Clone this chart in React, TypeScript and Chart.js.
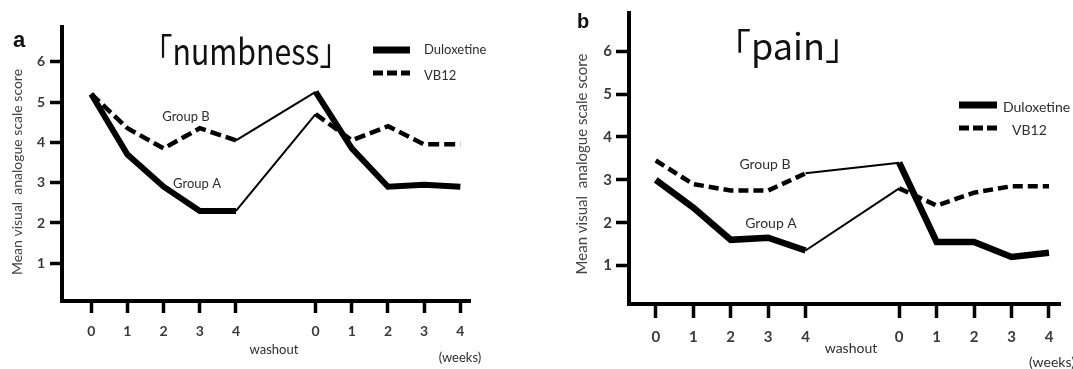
import React, { useEffect, useRef } from 'react';
import { Chart, registerables } from 'chart.js';

Chart.register(...registerables);

// ---------- data ----------
const weekLabels = ['0', '1', '2', '3', '4'];
const yTickValues = [1, 2, 3, 4, 5, 6];
// 10 timepoints: period 1 weeks 0-4, then (after washout) period 2 weeks 0-4
const numbnessGroupA = [5.2, 3.7, 2.9, 2.3, 2.3, 4.7, 4.05, 4.4, 3.95, 3.95];
const numbnessGroupB = [5.2, 4.35, 3.85, 4.35, 4.05, 5.25, 3.85, 2.9, 2.95, 2.9];
const painGroupA = [3.0, 2.35, 1.6, 1.65, 1.35, 2.8, 2.4, 2.7, 2.85, 2.85];
const painGroupB = [3.45, 2.9, 2.75, 2.75, 3.15, 3.4, 1.55, 1.55, 1.2, 1.3];
const groupASequence = ['Duloxetine', 'VB12'];
const groupBSequence = ['VB12', 'Duloxetine'];
const legendItems = ['Duloxetine', 'VB12'];
const yAxisTitle = 'Mean visual  analogue scale score';

const TEXT = '#2e2e2e';
const FONT = 'Lato, "Open Sans", sans-serif';

type Panel = {
  letter: string;
  title: string;
  groupA: number[];
  groupB: number[];
  w: number;
  h: number;
  area: { left: number; top: number; right: number; bottom: number };
  xMin: number;
  xMax: number;
  yMin: number;
  yMax: number;
  gap: number;
  yTickLen: number;
  xTickLen: number;
  yPad: number;
  xPad: number;
  tickSize: number;
  thick: number;
  dashW: number;
  dash: number[];
  thin: number;
  layout: any;
};

const panelA: Panel = {
  letter: 'a',
  title: '「numbness」',
  groupA: numbnessGroupA,
  groupB: numbnessGroupB,
  w: 536,
  h: 369,
  area: { left: 62, top: 27, right: 470, bottom: 301 },
  xMin: -0.808,
  xMax: 10.466,
  yMin: 0.065,
  yMax: 6.861,
  gap: 6.2,
  yTickLen: 12,
  xTickLen: 12,
  yPad: 5,
  xPad: 10,
  tickSize: 14,
  thick: 6,
  dashW: 4.5,
  dash: [11, 5],
  thin: 2,
  layout: {
    letter: { x: 19, y: 47, size: 22 },
    title: { x: 246, y: 65, size: 36, sx: 0.84 },
    groupB: { x: 186, y: 117, size: 13 },
    groupA: { x: 197, y: 184, size: 13 },
    washout: { x: 274, y: 350, size: 13 },
    weeks: { x: 460, y: 358, size: 13 },
    yTitle: { x: 17, y: 172, size: 14 },
    legend: { x1: 373, x2: 410, y1: 50, y2: 73, tx1: 424, tx2: 424, ty1: 50, ty2: 76, size: 13, thick: 7, dashW: 5, dash: [10, 4] },
  },
};

const panelB: Panel = {
  letter: 'b',
  title: '「pain」',
  groupA: painGroupA,
  groupB: painGroupB,
  w: 537,
  h: 369,
  area: { left: 93, top: 9, right: 524, bottom: 304 },
  xMin: -0.715,
  xMax: 10.794,
  yMin: 0.103,
  yMax: 6.89,
  gap: 6.5,
  yTickLen: 13,
  xTickLen: 14,
  yPad: 4,
  xPad: 10,
  tickSize: 15,
  thick: 6.5,
  dashW: 4.5,
  dash: [10, 5],
  thin: 2,
  layout: {
    letter: { x: 47, y: 28, size: 20 },
    title: { x: 252, y: 60, size: 36, sx: 1 },
    groupB: { x: 229, y: 164, size: 14 },
    groupA: { x: 235, y: 223, size: 14 },
    washout: { x: 315, y: 348, size: 14 },
    weeks: { x: 516, y: 362, size: 14 },
    yTitle: { x: 46, y: 164, size: 15 },
    legend: { x1: 423, x2: 461, y1: 105, y2: 128, tx1: 467, tx2: 476, ty1: 107, ty2: 130, size: 14, thick: 7, dashW: 5, dash: [10, 4] },
  },
};

function xPositions(gap: number): number[] {
  const w = weekLabels.map(Number);
  return [...w, ...w.map((v) => v + gap)];
}

function segmentStyle(seq: string[], p0: number, p: Panel) {
  if (p0 === weekLabels.length - 1) return { width: p.thin, dash: [] as number[] };
  const drug = p0 < weekLabels.length - 1 ? seq[0] : seq[1];
  return drug === 'Duloxetine' ? { width: p.thick, dash: [] as number[] } : { width: p.dashW, dash: p.dash };
}

function makeDataset(label: string, values: number[], seq: string[], p: Panel) {
  const xs = xPositions(p.gap);
  return {
    label,
    data: values.map((v, i) => ({ x: xs[i], y: v })),
    borderColor: '#000',
    borderWidth: p.thin,
    pointRadius: 0,
    fill: false,
    tension: 0,
    borderJoinStyle: 'miter' as const,
    segment: {
      borderWidth: (ctx: any) => segmentStyle(seq, ctx.p0DataIndex, p).width,
      borderDash: (ctx: any) => segmentStyle(seq, ctx.p0DataIndex, p).dash,
    },
  };
}

function annotationPlugin(p: Panel) {
  return {
    id: 'annotations' + p.letter,
    afterDraw(chart: any) {
      const ctx = chart.ctx as CanvasRenderingContext2D;
      const L = p.layout;
      ctx.save();
      // panel letter
      ctx.fillStyle = '#111';
      ctx.font = `bold ${L.letter.size}px "Liberation Sans", Arial, sans-serif`;
      ctx.textAlign = 'center';
      ctx.textBaseline = 'alphabetic';
      ctx.fillText(p.letter, L.letter.x, L.letter.y);
      // title
      ctx.save();
      ctx.fillStyle = '#111';
      ctx.translate(L.title.x, L.title.y);
      ctx.scale(L.title.sx, 1);
      ctx.font = `${L.title.size}px "Noto Sans CJK JP", "Noto Sans", sans-serif`;
      ctx.textAlign = 'center';
      ctx.fillText(p.title, 0, 0);
      ctx.restore();
      // group labels etc.
      ctx.fillStyle = TEXT;
      ctx.textBaseline = 'middle';
      const put = (t: string, o: any) => {
        ctx.font = `${o.size}px ${FONT}`;
        ctx.fillText(t, o.x, o.y);
      };
      ctx.textAlign = 'center';
      put('Group B', L.groupB);
      put('Group A', L.groupA);
      put('washout', L.washout);
      put('(weeks)', L.weeks);
      // y axis title
      ctx.save();
      ctx.translate(L.yTitle.x, L.yTitle.y);
      ctx.rotate(-Math.PI / 2);
      ctx.font = `${L.yTitle.size}px ${FONT}`;
      ctx.fillStyle = '#444';
      ctx.fillText(yAxisTitle, 0, 0);
      ctx.restore();
      // legend
      const lg = L.legend;
      ctx.strokeStyle = '#000';
      ctx.lineCap = 'butt';
      ctx.lineWidth = lg.thick;
      ctx.setLineDash([]);
      ctx.beginPath();
      ctx.moveTo(lg.x1, lg.y1);
      ctx.lineTo(lg.x2, lg.y1);
      ctx.stroke();
      ctx.lineWidth = lg.dashW;
      ctx.setLineDash(lg.dash);
      ctx.beginPath();
      ctx.moveTo(lg.x1, lg.y2);
      ctx.lineTo(lg.x2, lg.y2);
      ctx.stroke();
      ctx.setLineDash([]);
      ctx.textAlign = 'left';
      ctx.font = `${lg.size}px ${FONT}`;
      ctx.fillText(legendItems[0], lg.tx1, lg.ty1);
      ctx.fillText(legendItems[1], lg.tx2, lg.ty2);
      ctx.restore();
    },
  };
}

function buildChart(canvas: HTMLCanvasElement, p: Panel) {
  const xs = xPositions(p.gap);
  return new Chart(canvas, {
    type: 'line',
    data: {
      datasets: [
        makeDataset('Group A', p.groupA, groupASequence, p),
        makeDataset('Group B', p.groupB, groupBSequence, p),
      ],
    },
    options: {
      responsive: false,
      animation: false,
      events: [],
      layout: {
        padding: { top: p.area.top, right: p.w - p.area.right, left: 0, bottom: 0 },
      },
      plugins: {
        legend: { display: false },
        tooltip: { enabled: false },
      },
      scales: {
        x: {
          type: 'linear',
          min: p.xMin,
          max: p.xMax,
          afterFit: (s: any) => {
            s.height = p.h - p.area.bottom;
          },
          afterBuildTicks: (s: any) => {
            s.ticks = xs.map((v) => ({ value: v }));
          },
          border: { display: true, color: '#000', width: 4 },
          grid: {
            display: true,
            drawOnChartArea: false,
            drawTicks: true,
            tickLength: p.xTickLen,
            tickWidth: 3.5,
            tickColor: '#000',
            color: '#000',
          },
          ticks: {
            autoSkip: false,
            maxRotation: 0,
            padding: p.xPad,
            color: '#3a3a3a',
            font: { family: FONT, size: p.tickSize, weight: 'bold' },
            callback: (_v: any, i: number) => weekLabels[i % weekLabels.length],
          },
        },
        y: {
          type: 'linear',
          min: p.yMin,
          max: p.yMax,
          afterFit: (s: any) => {
            s.width = p.area.left;
          },
          afterBuildTicks: (s: any) => {
            s.ticks = yTickValues.map((v) => ({ value: v }));
          },
          border: { display: true, color: '#000', width: 4 },
          grid: {
            display: true,
            drawOnChartArea: false,
            drawTicks: true,
            tickLength: p.yTickLen,
            tickWidth: 3.5,
            tickColor: '#000',
            color: '#000',
          },
          ticks: {
            padding: p.yPad,
            color: '#3a3a3a',
            font: { family: FONT, size: p.tickSize, weight: 'bold' },
            callback: (v: any) => String(v),
          },
        },
      },
    },
    plugins: [annotationPlugin(p)],
  } as any);
}

function PanelChart({ p, left }: { p: Panel; left: number }) {
  const ref = useRef<HTMLCanvasElement | null>(null);
  useEffect(() => {
    if (!ref.current) return;
    const chart = buildChart(ref.current, p);
    return () => chart.destroy();
  }, [p]);
  return (
    <canvas
      ref={ref}
      width={p.w}
      height={p.h}
      style={{ position: 'absolute', left, top: 0, width: p.w, height: p.h }}
    />
  );
}

export default function App() {
  return (
    <div style={{ position: 'absolute', left: 0, top: 0, width: 1073, height: 369, background: '#fff', overflow: 'hidden' }}>
      <PanelChart p={panelA} left={0} />
      <PanelChart p={panelB} left={536} />
    </div>
  );
}
